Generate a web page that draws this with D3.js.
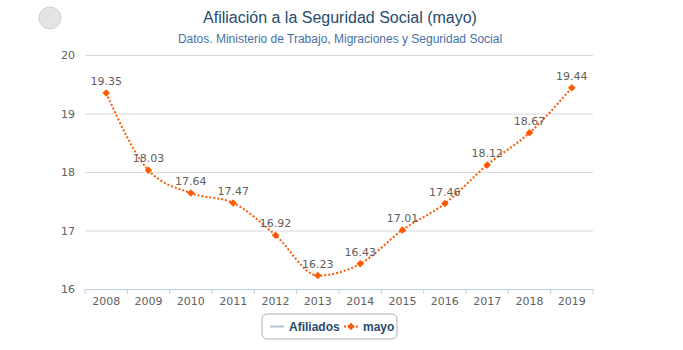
<!DOCTYPE html>
<html>
<head>
<meta charset="utf-8">
<script src="https://cdn.jsdelivr.net/npm/d3@7"></script>
<style>
  body { margin: 0; background: #fff; }
  svg { display: block; }
</style>
</head>
<body>
<div id="chart-area"></div>
<script>
const years = ["2008", "2009", "2010", "2011", "2012", "2013", "2014", "2015", "2016", "2017", "2018", "2019"]
const mayo = [19.35, 18.03, 17.64, 17.47, 16.92, 16.23, 16.43, 17.01, 17.46, 18.12, 18.67, 19.44]
const yTicks = [16, 17, 18, 19, 20]

const MARGIN = { LEFT: 85, RIGHT: 90, TOP: 55, BOTTOM: 61 }
const WIDTH = 683 - MARGIN.LEFT - MARGIN.RIGHT
const HEIGHT = 350 - MARGIN.TOP - MARGIN.BOTTOM
const ORANGE = "#ff5a00"
const LABEL_FONT = "DejaVu Sans, Verdana, sans-serif"

const svg = d3.select("#chart-area").append("svg")
  .attr("width", 683)
  .attr("height", 350)

// logo placeholder
svg.append("circle")
  .attr("cx", 50).attr("cy", 18).attr("r", 11)
  .attr("fill", "#e4e4e4").attr("stroke", "#cfcfcf")

// Title
svg.append("text")
  .attr("x", 340).attr("y", 23)
  .attr("text-anchor", "middle")
  .style("font-family", "Liberation Sans, Arial, sans-serif")
  .style("font-size", "16px")
  .attr("fill", "#274b6d")
  .text("Afiliación a la Seguridad Social (mayo)")

svg.append("text")
  .attr("x", 340).attr("y", 43)
  .attr("text-anchor", "middle")
  .style("font-family", "Liberation Sans, Arial, sans-serif")
  .style("font-size", "12px")
  .attr("fill", "#4572a7")
  .text("Datos. Ministerio de Trabajo, Migraciones y Seguridad Social")

const g = svg.append("g")
  .attr("transform", `translate(${MARGIN.LEFT}, ${MARGIN.TOP})`)

const x = d3.scaleBand()
  .domain(years)
  .range([0, WIDTH])

const y = d3.scaleLinear()
  .domain([16, 20])
  .range([HEIGHT, 0])

// grid + y labels
const yAxisCall = d3.axisLeft(y)
  .tickValues(yTicks)
  .tickFormat(d3.format("d"))
  .tickSize(-WIDTH)
  .tickPadding(10)

const yAxis = g.append("g")
  .attr("class", "y axis")
  .call(yAxisCall)
yAxis.select(".domain").remove()
yAxis.selectAll("line").attr("stroke", "#d8d8d8")
yAxis.selectAll("text")
  .style("font-family", LABEL_FONT)
  .style("font-size", "11px")
  .attr("fill", "#606060")

// x axis
const xAxisCall = d3.axisBottom(x).tickSize(0).tickPadding(8)
const xAxis = g.append("g")
  .attr("class", "x axis")
  .attr("transform", `translate(0, ${HEIGHT})`)
  .call(xAxisCall)
xAxis.select(".domain").attr("stroke", "#c0d0e0")
xAxis.selectAll("text")
  .style("font-family", LABEL_FONT)
  .style("font-size", "11px")
  .attr("fill", "#606060")

g.append("g").selectAll("line")
  .data(years.concat(["end"]))
  .enter().append("line")
  .attr("x1", (d, i) => i * x.bandwidth())
  .attr("x2", (d, i) => i * x.bandwidth())
  .attr("y1", HEIGHT)
  .attr("y2", HEIGHT + 5)
  .attr("stroke", "#c0d0e0")

// series line
const data = years.map((yr, i) => ({ year: yr, value: mayo[i] }))
const line = d3.line()
  .x(d => x(d.year) + x.bandwidth() / 2)
  .y(d => y(d.value))
  .curve(d3.curveMonotoneX)

g.append("path")
  .datum(data)
  .attr("d", line)
  .attr("fill", "none")
  .attr("stroke", ORANGE)
  .attr("stroke-width", 2)
  .attr("stroke-dasharray", "2,2")

g.selectAll(".pt")
  .data(data)
  .enter().append("path")
  .attr("class", "pt")
  .attr("transform", d => `translate(${x(d.year) + x.bandwidth() / 2}, ${y(d.value)}) rotate(45)`)
  .attr("d", d3.symbol().type(d3.symbolSquare).size(28))
  .attr("fill", ORANGE)

g.selectAll(".lbl")
  .data(data)
  .enter().append("text")
  .attr("class", "lbl")
  .attr("x", d => x(d.year) + x.bandwidth() / 2)
  .attr("y", d => y(d.value) - 8)
  .attr("text-anchor", "middle")
  .style("font-family", LABEL_FONT)
  .style("font-size", "11px")
  .attr("fill", "#606060")
  .text(d => d.value.toFixed(2))

// legend
const LEGEND_FONT = "Liberation Sans, Arial, sans-serif"
const lg = svg.append("g").attr("transform", "translate(262, 314)")
lg.append("rect")
  .attr("width", 135).attr("height", 25)
  .attr("rx", 5)
  .attr("fill", "#fff")
  .attr("stroke", "#b0b0b0")
lg.append("line")
  .attr("x1", 8).attr("x2", 22).attr("y1", 12.5).attr("y2", 12.5)
  .attr("stroke", "#b0c4de").attr("stroke-width", 2)
lg.append("text")
  .attr("x", 27).attr("y", 17)
  .style("font-family", LEGEND_FONT)
  .style("font-size", "12px")
  .style("font-weight", "bold")
  .attr("fill", "#274b6d")
  .text("Afiliados")
lg.append("line")
  .attr("x1", 82).attr("x2", 96).attr("y1", 12.5).attr("y2", 12.5)
  .attr("stroke", ORANGE).attr("stroke-width", 2)
  .attr("stroke-dasharray", "2,2")
lg.append("path")
  .attr("transform", "translate(89, 12.5) rotate(45)")
  .attr("d", d3.symbol().type(d3.symbolSquare).size(28))
  .attr("fill", ORANGE)
lg.append("text")
  .attr("x", 101).attr("y", 17)
  .style("font-family", LEGEND_FONT)
  .style("font-size", "12px")
  .style("font-weight", "bold")
  .attr("fill", "#274b6d")
  .text("mayo")
</script>
</body>
</html>
